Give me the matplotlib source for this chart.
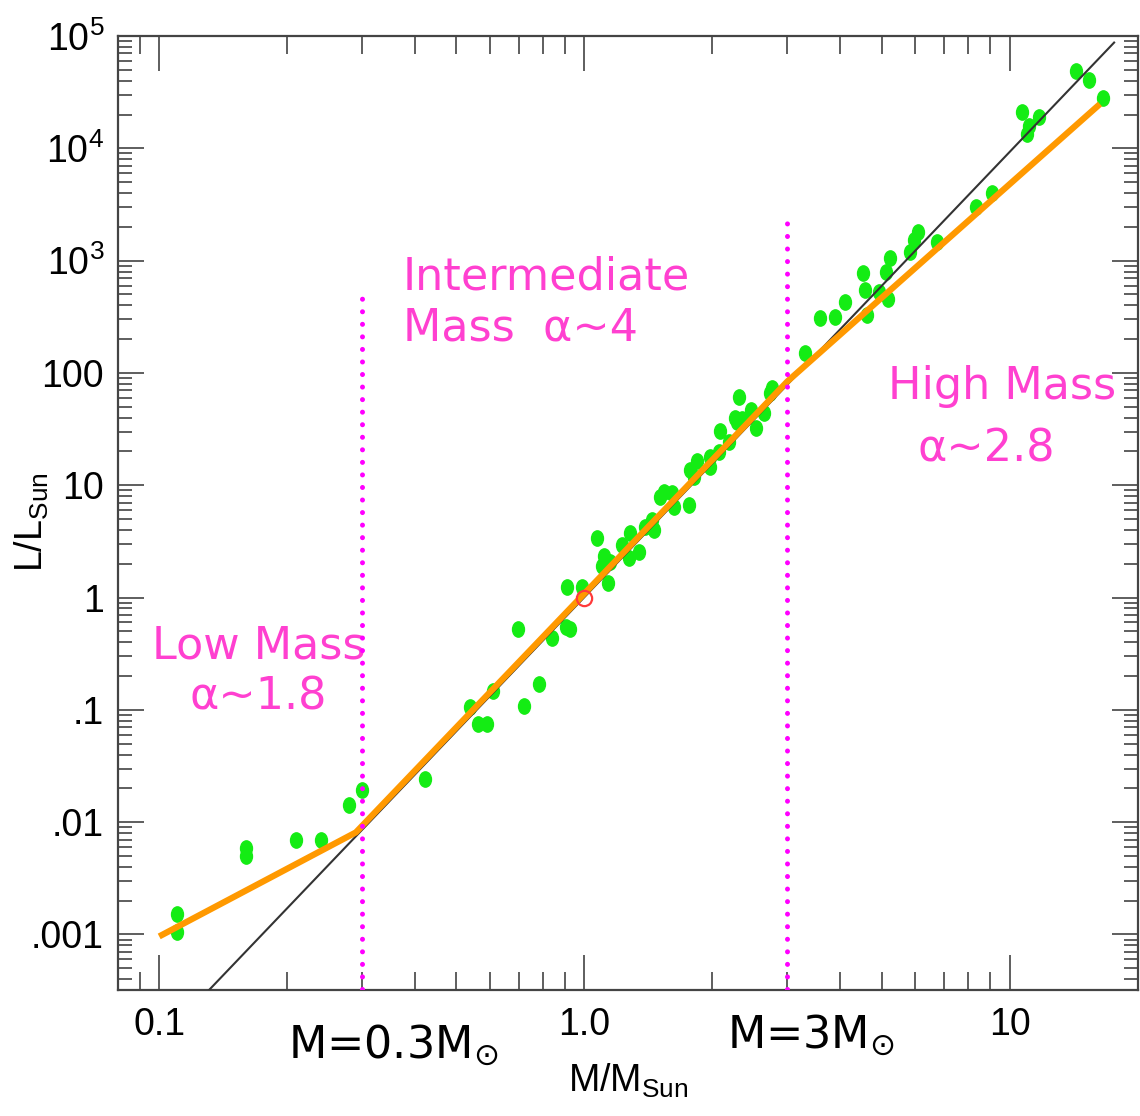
import matplotlib
matplotlib.use('Agg')
import matplotlib.pyplot as plt
from matplotlib.path import Path
from matplotlib.transforms import Affine2D

# stars: mass (M/Msun) and luminosity (L/Lsun)
mass_low = [0.110, 0.110, 0.160, 0.160, 0.210, 0.240, 0.280, 0.300, 0.421]
lum_low = [0.00153, 0.00106, 0.00594, 0.00504, 0.0070, 0.0070, 0.0141, 0.0195, 0.0244]

mass_mid = [0.537, 0.561, 0.589, 0.609, 0.697, 0.719, 0.780, 0.837, 0.903, 0.927,
            0.912, 0.989, 1.138, 1.073, 1.114, 1.102, 1.151, 1.228, 1.282, 1.275,
            1.346, 1.390, 1.443, 1.459, 1.507, 1.540, 1.608, 1.626, 1.763, 1.772,
            1.841, 1.811, 1.974, 1.974, 2.073, 2.084, 2.188, 2.260, 2.284, 2.346,
            2.308, 2.464, 2.530, 2.642, 2.730, 2.760]
lum_mid = [0.107, 0.0755, 0.0755, 0.146, 0.530, 0.109, 0.171, 0.440, 0.541, 0.530,
           1.23, 1.25, 1.36, 3.42, 2.32, 1.89, 2.09, 2.96, 3.79, 2.27,
           2.57, 4.29, 4.95, 4.03, 7.93, 8.79, 8.61, 6.46, 6.73, 13.8,
           16.3, 11.9, 18.0, 14.4, 19.95, 30.1, 24.5, 40.1, 36.2, 38.5,
           61.6, 47.2, 32.6, 44.4, 66.9, 74.1]

mass_high = [3.30, 3.575, 3.88, 4.09, 4.51, 4.56, 4.61, 4.94, 5.16, 5.13, 5.22,
             5.84, 5.94, 6.07, 6.76, 8.35, 9.10, 10.7, 11.0, 11.1, 11.7, 14.3,
             15.4, 16.6]
lum_high = [152, 311, 318, 424, 784, 553, 331, 531, 451, 800, 1066,
            1205, 1542, 1816, 1480, 3034, 4037, 21280, 13550, 15960, 19190, 49300,
            41000, 28330]

# sun
sun_mass = [1.0]
sun_lum = [1.0]

# single power law (black) and broken power law (orange)
single_mass = [0.131, 17.6]
single_lum = [3.2e-4, 8.75e4]
broken_mass = [0.1, 0.29, 3.0, 16.3]
broken_lum = [9.6e-4, 0.0081, 84, 24800]

# dotted boundaries
bound_mass = [0.3, 3.0]
bound_top = [520, 2570]

x_ticks = [0.1, 1.0, 10]
x_labels = ['0.1', '1.0', '10']
y_ticks = [1e-3, 1e-2, 1e-1, 1, 10, 100, 1e3, 1e4, 1e5]
y_labels = ['.001', '.01', '.1', '1', '10', '100',
            r'$\mathregular{10^3}$', r'$\mathregular{10^4}$', r'$\mathregular{10^5}$']

narrow = ['Liberation Sans Narrow', 'Liberation Sans', 'DejaVu Sans']
pink = '#FF40D0'

fig = plt.figure(figsize=(11.4, 11.16), dpi=100)
ax = fig.add_axes([0.1035, 0.1129, 0.8945, 0.8548])
ax.set_xscale('log')
ax.set_yscale('log')
ax.set_xlim(0.08, 20)
ax.set_ylim(3.2e-4, 1e5)

ell = Path.unit_circle().transformed(Affine2D().scale(0.78, 1.0))
green = '#14EC14'
for m, l in [(mass_low, lum_low), (mass_mid, lum_mid), (mass_high, lum_high)]:
    ax.plot(m, l, ls='none', marker=ell, ms=11, color=green, mec=green, zorder=2)

ax.plot(single_mass, single_lum, color='#333333', lw=1.5, zorder=3)
ax.plot(broken_mass, broken_lum, color='#FF9900', lw=4.5, zorder=4,
        solid_capstyle='butt')

for xm, top in zip(bound_mass, bound_top):
    ax.plot([xm, xm], [3.3e-4, top], color='#FF00FF', lw=3.6,
            linestyle=(0, (0.01, 2.5)), dash_capstyle='round', zorder=5)

ax.plot(sun_mass, sun_lum, ls='none', marker='o', ms=11, mfc='none',
        mec='#FF3A3A', mew=1.6, zorder=6)

# ticks and spines
for s in ax.spines.values():
    s.set_linewidth(1.6)
    s.set_color('#444444')
ax.tick_params(which='both', direction='in', top=True, right=True,
               color='#333333', width=1.1)
ax.tick_params(axis='x', which='major', length=25, pad=12)
ax.tick_params(axis='x', which='minor', length=13)
ax.tick_params(axis='y', which='major', length=19, pad=10)
ax.tick_params(axis='y', which='minor', length=10)
ax.set_xticks(x_ticks)
ax.set_xticklabels(x_labels)
ax.set_yticks(y_ticks)
ax.set_yticklabels(y_labels)
for t in ax.get_xticklabels() + ax.get_yticklabels():
    t.set_family(narrow)
    t.set_fontsize(27)

ax.set_xlabel(r'$\mathregular{M/M_{Sun}}$', family=narrow, fontsize=27, labelpad=14)
ax.set_ylabel(r'$\mathregular{L/L_{Sun}}$', family=narrow, fontsize=27)
ax.yaxis.set_label_coords(-0.066, 0.49)

# annotations
ax.text(0.171, 0.22, 'Low Mass\nα~1.8', color=pink, fontsize=32,
        ha='center', va='center', linespacing=1.25)
ax.text(0.374, 424, 'Intermediate\nMass  α~4', color=pink, fontsize=32,
        ha='left', va='center', linespacing=1.25)
ax.text(9.6, 75, 'High Mass', color=pink, fontsize=32, ha='center', va='center')
ax.text(8.8, 21, 'α~2.8', color=pink, fontsize=32, ha='center', va='center')

ax.text(0.201, 1.05e-4, r'M=0.3M$_{\odot}$', color='black',
        fontsize=32, ha='left', va='center')
ax.text(2.165, 1.28e-4, r'M=3M$_{\odot}$', color='black',
        fontsize=32, ha='left', va='center')

fig.savefig('out.png', dpi=100)
